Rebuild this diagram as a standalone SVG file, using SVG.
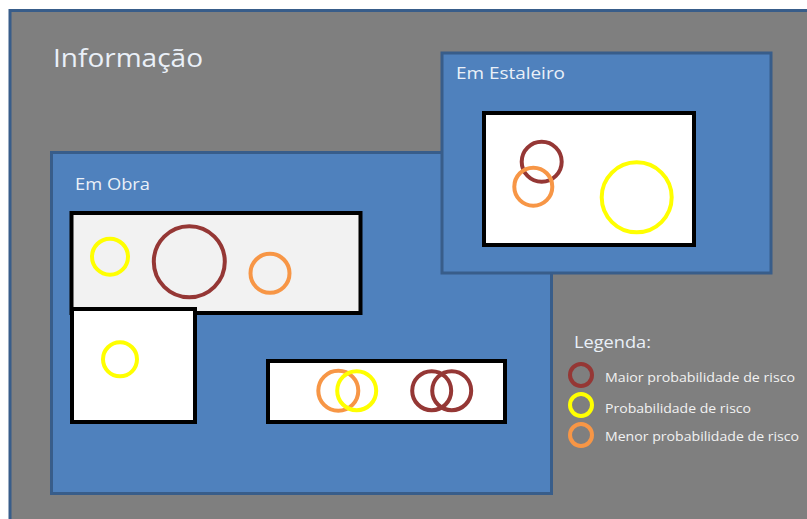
<svg xmlns="http://www.w3.org/2000/svg" width="807" height="519" viewBox="0 0 807 519">
<style>
  .frame{fill:#7f7f7f;stroke:#385d8a;stroke-width:3}
  .zone{fill:#4f81bd;stroke:#385d8a;stroke-width:3}
  .box{fill:#ffffff;stroke:#000000;stroke-width:4}
  .box.grey{fill:#f2f2f2}
  .c{fill:none;stroke-width:4}
  .hi{stroke:#953735}
  .mid{stroke:#ffff00}
  .lo{stroke:#f79646}
  .lbl{font-family:"Open Sans","Liberation Sans",sans-serif;fill:#eaf0f8}
  .leg{font-family:"Open Sans","Liberation Sans",sans-serif;fill:#f2f2f2;font-size:12px}
</style>
<rect width="807" height="519" fill="#ffffff"/>
<g id="informacao">
  <rect class="frame" x="10" y="10.5" width="820" height="540"/>
  <text class="lbl" x="53" y="67" font-size="26" textLength="150" lengthAdjust="spacingAndGlyphs">Informação</text>
</g>
<g id="em-obra">
  <rect class="zone" x="51.5" y="152.5" width="500" height="341"/>
  <text class="lbl" x="75" y="190" font-size="16" textLength="75" lengthAdjust="spacingAndGlyphs">Em Obra</text>
</g>
<g id="em-obra-area1">
  <rect class="box grey" x="71.5" y="213" width="289" height="100"/>
  <circle class="c mid" cx="110" cy="256.7" r="18"/>
  <circle class="c hi" cx="189.3" cy="261.7" r="35.5"/>
  <circle class="c lo" cx="270" cy="273.3" r="19.5"/>
</g>
<g id="em-obra-area2">
  <rect class="box" x="72" y="309" width="123" height="113"/>
  <circle class="c mid" cx="120" cy="359.3" r="17"/>
</g>
<g id="em-obra-area3">
  <rect class="box" x="268" y="361" width="237" height="61"/>
  <circle class="c lo" cx="338.3" cy="390.7" r="20"/>
  <circle class="c mid" cx="356.7" cy="390.7" r="19.5"/>
  <circle class="c hi" cx="431.7" cy="390.7" r="19.5"/>
  <circle class="c hi" cx="451.7" cy="390.7" r="19.5"/>
</g>
<g id="em-estaleiro">
  <rect class="zone" x="442" y="53" width="329" height="220"/>
  <text class="lbl" x="456" y="79" font-size="16" textLength="109" lengthAdjust="spacingAndGlyphs">Em Estaleiro</text>
</g>
<g id="em-estaleiro-area">
  <rect class="box" x="484" y="113" width="210" height="132"/>
  <circle class="c hi" cx="541.7" cy="161.7" r="20"/>
  <circle class="c lo" cx="533.3" cy="186.7" r="19"/>
  <circle class="c mid" cx="636.7" cy="197.3" r="35"/>
</g>
<g id="legenda">
  <text class="lbl" x="574" y="348" font-size="16" textLength="77" lengthAdjust="spacingAndGlyphs">Legenda:</text>
  <circle class="c hi" cx="581" cy="375" r="11" stroke-width="3.5"/>
  <text class="leg" x="605" y="382" textLength="190" lengthAdjust="spacingAndGlyphs">Maior probabilidade de risco</text>
  <circle class="c mid" cx="581" cy="405" r="11" stroke-width="3.5"/>
  <text class="leg" x="605" y="413" textLength="146" lengthAdjust="spacingAndGlyphs">Probabilidade de risco</text>
  <circle class="c lo" cx="581" cy="435" r="11" stroke-width="3.5"/>
  <text class="leg" x="605" y="441" textLength="194" lengthAdjust="spacingAndGlyphs">Menor probabilidade de risco</text>
</g>
</svg>
